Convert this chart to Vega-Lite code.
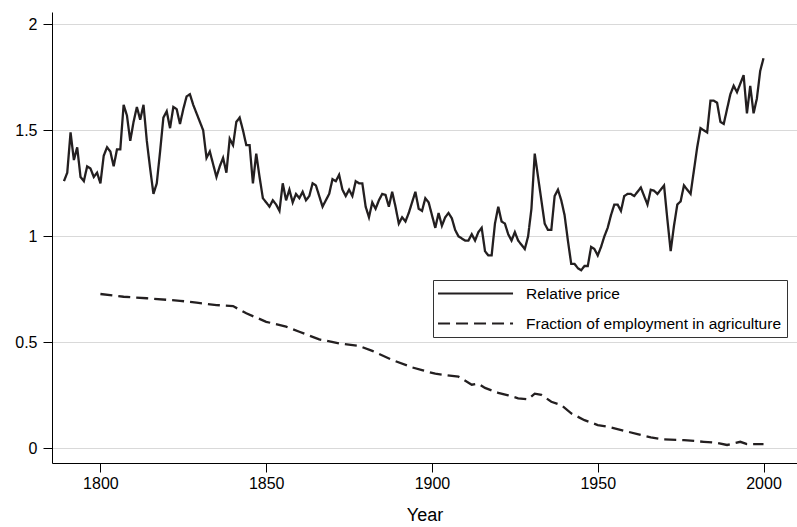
{
  "$schema": "https://vega.github.io/schema/vega-lite/v6.json",
  "width": 745,
  "height": 451,
  "autosize": {"type": "none"},
  "padding": {"left": 52, "top": 12, "right": 0, "bottom": 64},
  "background": "white",
  "config": {"view": {"stroke": null}, "font": "Liberation Sans"},
  "datasets": {
    "price": [
      {"year":1789,"value":1.26},{"year":1790,"value":1.30},{"year":1791,"value":1.49},{"year":1792,"value":1.36},{"year":1793,"value":1.42},{"year":1794,"value":1.28},{"year":1795,"value":1.26},{"year":1796,"value":1.33},{"year":1797,"value":1.32},{"year":1798,"value":1.28},{"year":1799,"value":1.30},
      {"year":1800,"value":1.25},{"year":1801,"value":1.38},{"year":1802,"value":1.42},{"year":1803,"value":1.40},{"year":1804,"value":1.33},{"year":1805,"value":1.41},{"year":1806,"value":1.41},{"year":1807,"value":1.62},{"year":1808,"value":1.57},{"year":1809,"value":1.45},
      {"year":1810,"value":1.54},{"year":1811,"value":1.61},{"year":1812,"value":1.55},{"year":1813,"value":1.62},{"year":1814,"value":1.45},{"year":1815,"value":1.32},{"year":1816,"value":1.20},{"year":1817,"value":1.25},{"year":1818,"value":1.40},{"year":1819,"value":1.56},
      {"year":1820,"value":1.59},{"year":1821,"value":1.51},{"year":1822,"value":1.61},{"year":1823,"value":1.60},{"year":1824,"value":1.53},{"year":1825,"value":1.60},{"year":1826,"value":1.66},{"year":1827,"value":1.67},{"year":1828,"value":1.62},{"year":1829,"value":1.58},
      {"year":1830,"value":1.54},{"year":1831,"value":1.50},{"year":1832,"value":1.37},{"year":1833,"value":1.40},{"year":1834,"value":1.34},{"year":1835,"value":1.28},{"year":1836,"value":1.33},{"year":1837,"value":1.37},{"year":1838,"value":1.30},{"year":1839,"value":1.46},
      {"year":1840,"value":1.43},{"year":1841,"value":1.54},{"year":1842,"value":1.56},{"year":1843,"value":1.50},{"year":1844,"value":1.43},{"year":1845,"value":1.43},{"year":1846,"value":1.25},{"year":1847,"value":1.39},{"year":1848,"value":1.28},{"year":1849,"value":1.18},
      {"year":1850,"value":1.16},{"year":1851,"value":1.14},{"year":1852,"value":1.17},{"year":1853,"value":1.15},{"year":1854,"value":1.12},{"year":1855,"value":1.25},{"year":1856,"value":1.17},{"year":1857,"value":1.22},{"year":1858,"value":1.16},{"year":1859,"value":1.20},
      {"year":1860,"value":1.18},{"year":1861,"value":1.21},{"year":1862,"value":1.17},{"year":1863,"value":1.19},{"year":1864,"value":1.25},{"year":1865,"value":1.24},{"year":1866,"value":1.19},{"year":1867,"value":1.14},{"year":1868,"value":1.17},{"year":1869,"value":1.20},
      {"year":1870,"value":1.27},{"year":1871,"value":1.26},{"year":1872,"value":1.29},{"year":1873,"value":1.22},{"year":1874,"value":1.19},{"year":1875,"value":1.22},{"year":1876,"value":1.19},{"year":1877,"value":1.26},{"year":1878,"value":1.25},{"year":1879,"value":1.25},
      {"year":1880,"value":1.14},{"year":1881,"value":1.09},{"year":1882,"value":1.16},{"year":1883,"value":1.13},{"year":1884,"value":1.17},{"year":1885,"value":1.20},{"year":1886,"value":1.195},{"year":1887,"value":1.14},{"year":1888,"value":1.21},{"year":1889,"value":1.14},
      {"year":1890,"value":1.06},{"year":1891,"value":1.09},{"year":1892,"value":1.07},{"year":1893,"value":1.11},{"year":1894,"value":1.16},{"year":1895,"value":1.21},{"year":1896,"value":1.13},{"year":1897,"value":1.12},{"year":1898,"value":1.18},{"year":1899,"value":1.16},
      {"year":1900,"value":1.10},{"year":1901,"value":1.04},{"year":1902,"value":1.11},{"year":1903,"value":1.05},{"year":1904,"value":1.09},{"year":1905,"value":1.11},{"year":1906,"value":1.085},{"year":1907,"value":1.03},{"year":1908,"value":1.00},{"year":1909,"value":0.99},
      {"year":1910,"value":0.98},{"year":1911,"value":0.98},{"year":1912,"value":1.01},{"year":1913,"value":0.98},{"year":1914,"value":1.02},{"year":1915,"value":1.04},{"year":1916,"value":0.93},{"year":1917,"value":0.91},{"year":1918,"value":0.91},{"year":1919,"value":1.06},
      {"year":1920,"value":1.14},{"year":1921,"value":1.07},{"year":1922,"value":1.06},{"year":1923,"value":1.01},{"year":1924,"value":0.98},{"year":1925,"value":1.02},{"year":1926,"value":0.98},{"year":1927,"value":0.96},{"year":1928,"value":0.94},{"year":1929,"value":1.00},
      {"year":1930,"value":1.13},{"year":1931,"value":1.39},{"year":1932,"value":1.28},{"year":1933,"value":1.17},{"year":1934,"value":1.06},{"year":1935,"value":1.03},{"year":1936,"value":1.03},{"year":1937,"value":1.19},{"year":1938,"value":1.22},{"year":1939,"value":1.17},
      {"year":1940,"value":1.10},{"year":1941,"value":0.98},{"year":1942,"value":0.87},{"year":1943,"value":0.87},{"year":1944,"value":0.85},{"year":1945,"value":0.84},{"year":1946,"value":0.86},{"year":1947,"value":0.86},{"year":1948,"value":0.95},{"year":1949,"value":0.94},
      {"year":1950,"value":0.91},{"year":1951,"value":0.95},{"year":1952,"value":1.00},{"year":1953,"value":1.04},{"year":1954,"value":1.10},{"year":1955,"value":1.15},{"year":1956,"value":1.15},{"year":1957,"value":1.12},{"year":1958,"value":1.19},{"year":1959,"value":1.20},
      {"year":1960,"value":1.20},{"year":1961,"value":1.19},{"year":1962,"value":1.21},{"year":1963,"value":1.23},{"year":1964,"value":1.19},{"year":1965,"value":1.15},{"year":1966,"value":1.22},{"year":1967,"value":1.215},{"year":1968,"value":1.20},{"year":1969,"value":1.22},
      {"year":1970,"value":1.24},{"year":1971,"value":1.08},{"year":1972,"value":0.93},{"year":1973,"value":1.05},{"year":1974,"value":1.15},{"year":1975,"value":1.165},{"year":1976,"value":1.24},{"year":1977,"value":1.22},{"year":1978,"value":1.20},{"year":1979,"value":1.31},
      {"year":1980,"value":1.42},{"year":1981,"value":1.51},{"year":1982,"value":1.50},{"year":1983,"value":1.49},{"year":1984,"value":1.64},{"year":1985,"value":1.64},{"year":1986,"value":1.63},{"year":1987,"value":1.54},{"year":1988,"value":1.53},{"year":1989,"value":1.60},
      {"year":1990,"value":1.67},{"year":1991,"value":1.71},{"year":1992,"value":1.68},{"year":1993,"value":1.72},{"year":1994,"value":1.76},{"year":1995,"value":1.58},{"year":1996,"value":1.71},{"year":1997,"value":1.58},{"year":1998,"value":1.65},{"year":1999,"value":1.78},
      {"year":2000,"value":1.84}
    ],
    "emp": [
      {"year":1800,"value":0.728},{"year":1807,"value":0.715},{"year":1814,"value":0.708},{"year":1824,"value":0.696},{"year":1829,"value":0.687},{"year":1835,"value":0.676},{"year":1840,"value":0.671},{"year":1844,"value":0.637},{"year":1850,"value":0.597},{"year":1856,"value":0.574},
      {"year":1860,"value":0.55},{"year":1866,"value":0.514},{"year":1872,"value":0.495},{"year":1878,"value":0.483},{"year":1882,"value":0.46},{"year":1888,"value":0.417},{"year":1894,"value":0.382},{"year":1897,"value":0.369},{"year":1901,"value":0.352},{"year":1908,"value":0.338},
      {"year":1912,"value":0.30},{"year":1914,"value":0.305},{"year":1916,"value":0.285},{"year":1920,"value":0.262},{"year":1923,"value":0.25},{"year":1926,"value":0.236},{"year":1929,"value":0.231},{"year":1931,"value":0.258},{"year":1933,"value":0.252},{"year":1936,"value":0.22},
      {"year":1939,"value":0.204},{"year":1942,"value":0.165},{"year":1946,"value":0.133},{"year":1950,"value":0.11},{"year":1954,"value":0.099},{"year":1958,"value":0.083},{"year":1962,"value":0.067},{"year":1966,"value":0.052},{"year":1970,"value":0.042},{"year":1976,"value":0.039},
      {"year":1982,"value":0.031},{"year":1986,"value":0.026},{"year":1989,"value":0.016},{"year":1993,"value":0.031},{"year":1995,"value":0.02},{"year":2000,"value":0.02}
    ]
  },
  "layer": [
    {
      "data": {"name": "price"},
      "transform": [{"calculate": "'Relative price'", "as": "series"}],
      "mark": {"type": "line", "strokeWidth": 2.3, "color": "#231f20"},
      "encoding": {
        "x": {"field": "year", "type": "quantitative"},
        "y": {"field": "value", "type": "quantitative"},
        "strokeDash": {"field": "series", "type": "nominal"}
      }
    },
    {
      "data": {"name": "emp"},
      "transform": [{"calculate": "'Fraction of employment in agriculture'", "as": "series"}],
      "mark": {"type": "line", "strokeWidth": 2.3, "color": "#231f20"},
      "encoding": {
        "x": {"field": "year", "type": "quantitative"},
        "y": {"field": "value", "type": "quantitative"},
        "strokeDash": {"field": "series", "type": "nominal"}
      }
    }
  ],
  "resolve": {"scale": {"strokeDash": "shared"}},
  "encoding": {
    "x": {
      "field": "year", "type": "quantitative",
      "scale": {"domain": [1785.4, 2010.1], "nice": false, "zero": false},
      "axis": {"values": [1800, 1850, 1900, 1950, 2000], "format": "d", "grid": false, "title": "Year",
        "titleFontSize": 18, "titleFontWeight": "normal", "titlePadding": 15, "titleColor": "#000",
        "labelFontSize": 16, "labelColor": "#000", "labelPadding": 3, "tickSize": 9, "tickColor": "#000", "domainColor": "#000", "labelFlush": false}
    },
    "y": {
      "field": "value", "type": "quantitative",
      "scale": {"domain": [-0.069, 2.058], "nice": false, "zero": false},
      "axis": {"values": [0, 0.5, 1, 1.5, 2], "labelExpr": "datum.value", "title": null, "grid": true, "gridColor": "#d9d9d9",
        "labelFontSize": 16, "labelColor": "#000", "labelPadding": 6, "tickSize": 9, "tickColor": "#000", "domainColor": "#000"}
    },
    "strokeDash": {
      "field": "series", "type": "nominal",
      "scale": {"domain": ["Relative price", "Fraction of employment in agriculture"], "range": [[1, 0], [12, 6]]},
      "legend": {"orient": "none", "legendX": 381, "legendY": 268, "title": null, "direction": "vertical",
        "strokeColor": "#333", "padding": 5, "symbolType": "M-1.13,0H8.87", "symbolSize": 225, "symbolStrokeWidth": 2,
        "symbolStrokeColor": "#231f20", "labelOffset": 71, "labelFontSize": 15.5, "labelColor": "#000", "rowPadding": 13, "labelLimit": 400}
    }
  }
}
